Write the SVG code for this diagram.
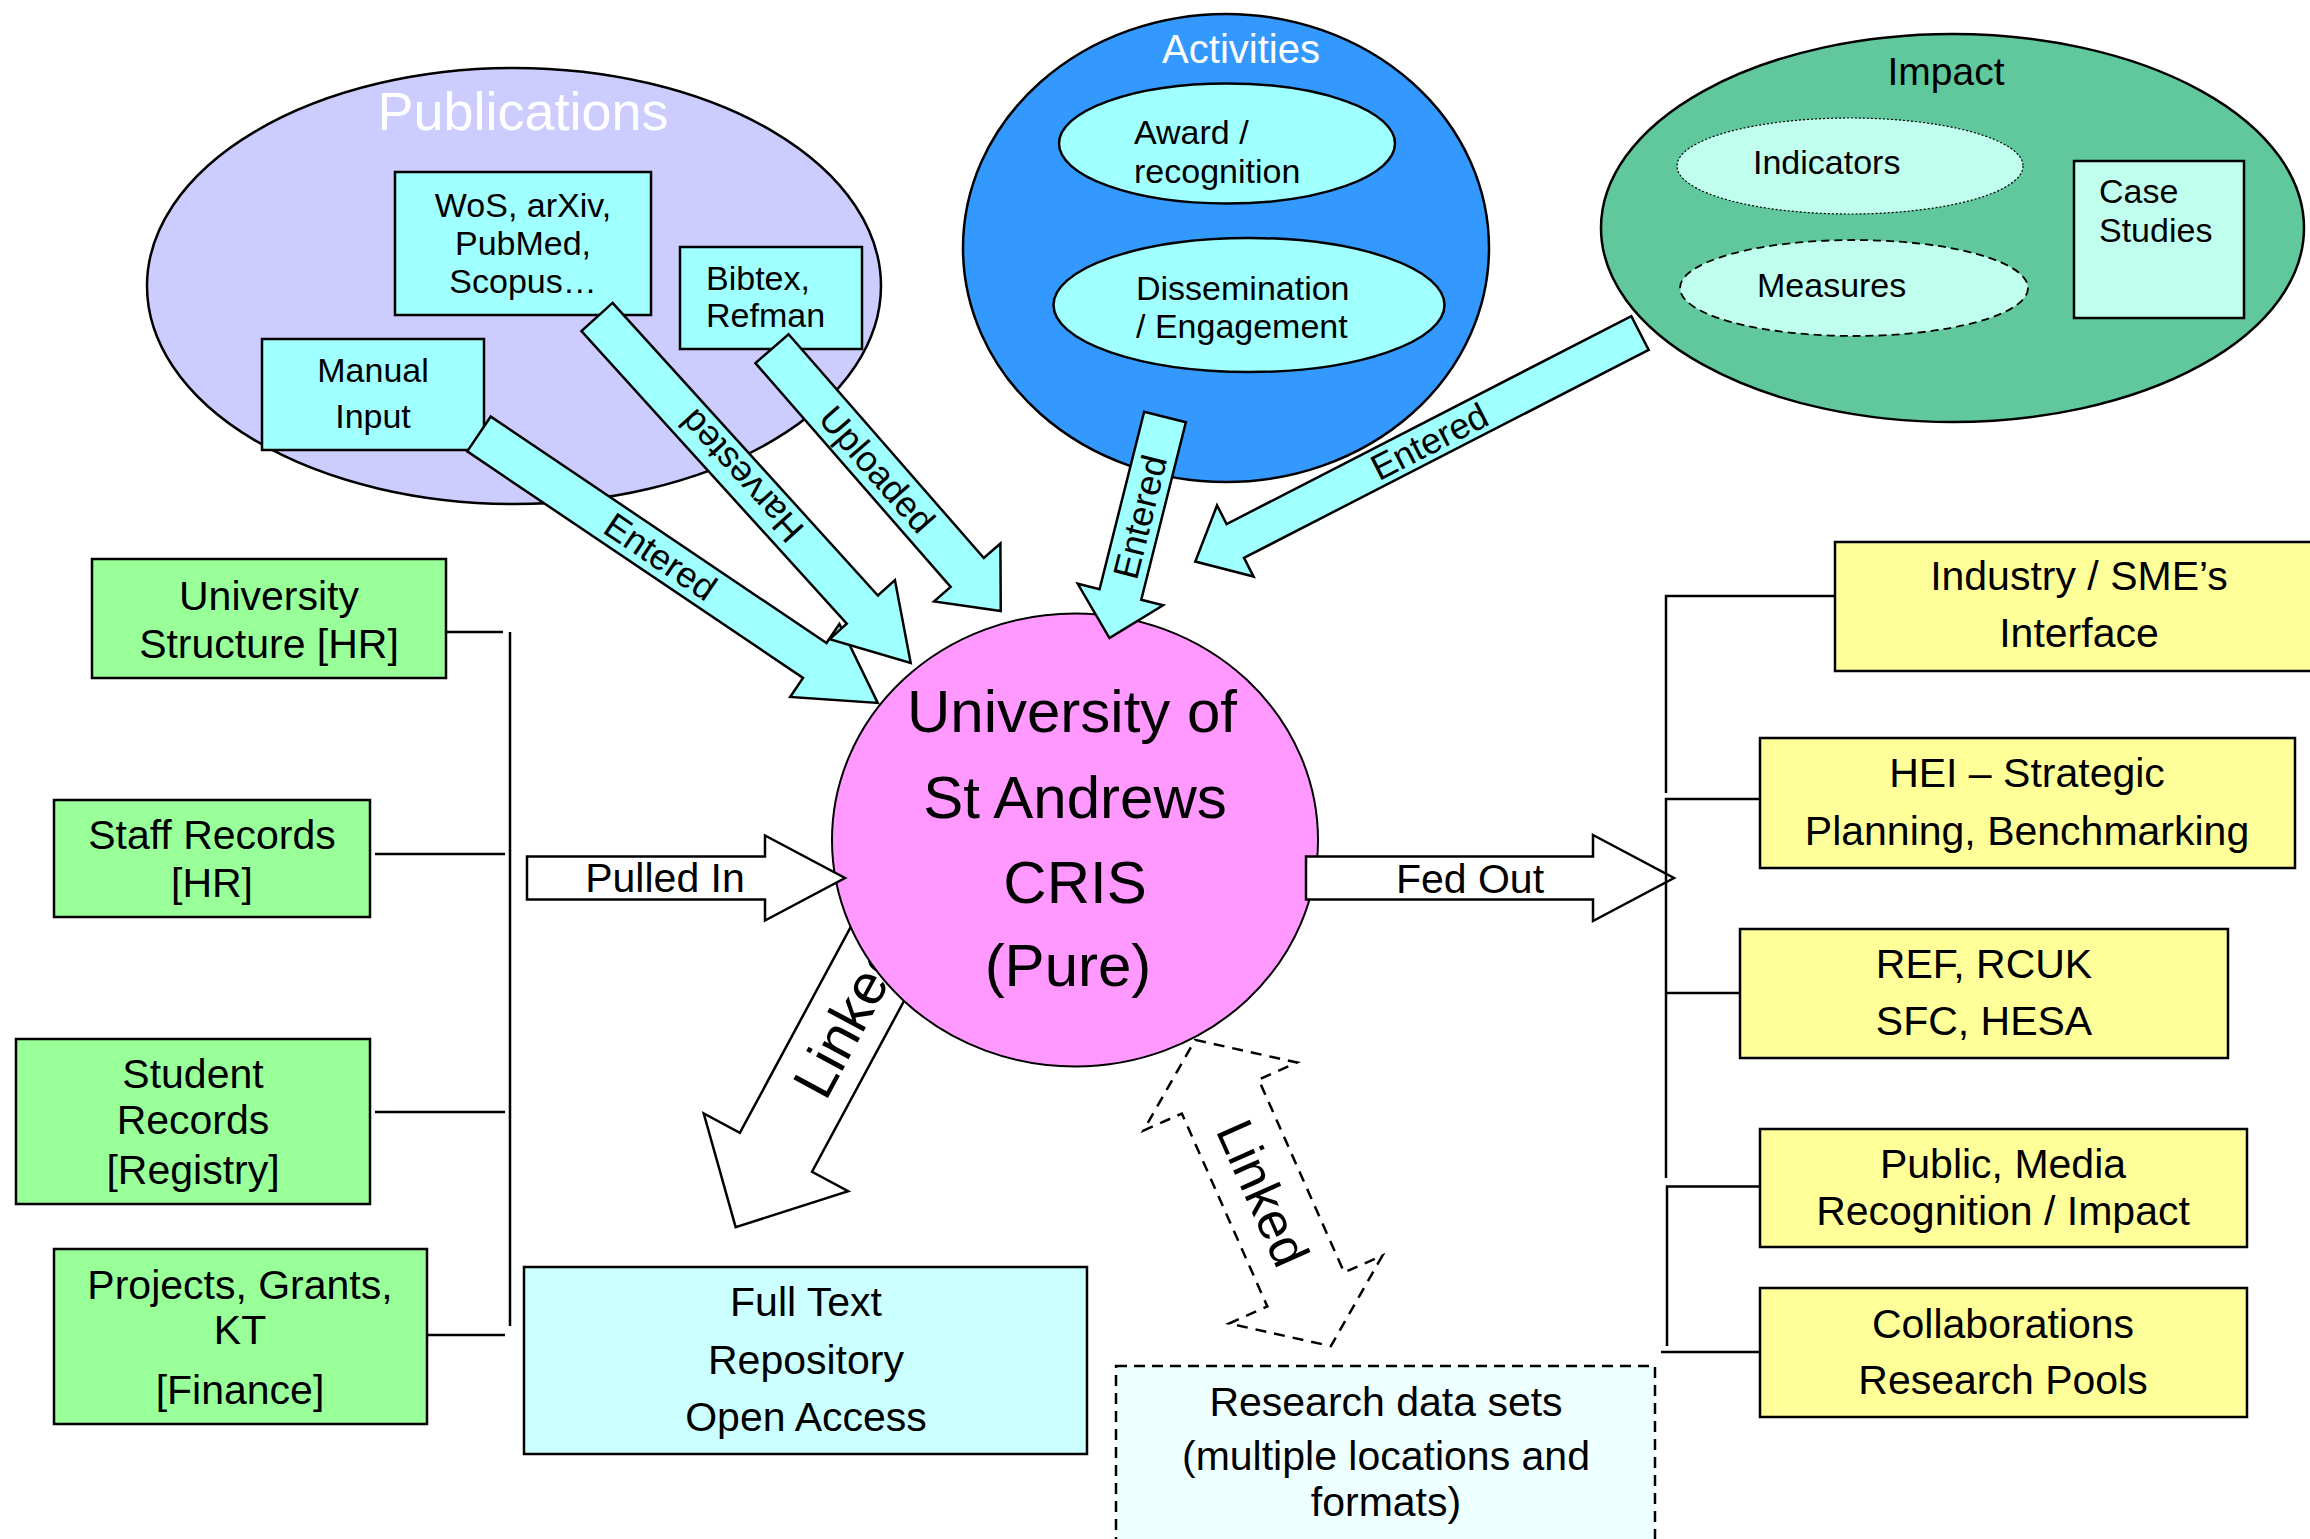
<svg xmlns="http://www.w3.org/2000/svg" width="2310" height="1539" viewBox="0 0 2310 1539">
<style>
text{font-family:"Liberation Sans",Arial,sans-serif;fill:#000}
.box{stroke:#000;stroke-width:2.5}
.cy{fill:#A0FFFF}
.gr{fill:#99FF99}
.ye{fill:#FFFF99}
.mint{fill:#C0FFEE}
.ln{fill:none;stroke:#000;stroke-width:2.5}
.arr{fill:#A0FFFF;stroke:#000;stroke-width:2.5;stroke-linejoin:miter}
.warr{fill:#fff;stroke:#000;stroke-width:2.5}
.c{text-anchor:middle}
.f34{font-size:34px}
.f36{font-size:36px}
.f41{font-size:41px}
</style>
<rect width="2310" height="1539" fill="#fff"/>

<g id="publications">
<ellipse cx="514" cy="286" rx="367" ry="218" fill="#CCCCFF" stroke="#000" stroke-width="2.5"/>
<text x="523" y="130" class="c" font-size="54" style="fill:#fff">Publications</text>
</g>
<g id="wos">
<rect x="395" y="172" width="256" height="143" class="box cy"/>
<text class="c f34" x="523" y="217">WoS, arXiv,</text>
<text class="c f34" x="523" y="255">PubMed,</text>
<text class="c f34" x="523" y="293">Scopus…</text>
</g>
<g id="bibtex">
<rect x="680" y="247" width="182" height="102" class="box cy"/>
<text class="f34" x="706" y="290">Bibtex,</text>
<text class="f34" x="706" y="327">Refman</text>
</g>
<g id="manual">
<rect x="262" y="339" width="222" height="111" class="box cy"/>
<text class="c f34" x="373" y="382">Manual</text>
<text class="c f34" x="373" y="428">Input</text>
</g>

<g id="activities">
<ellipse cx="1226" cy="248" rx="263" ry="234" fill="#3399FF" stroke="#000" stroke-width="2.5"/>
<text x="1241" y="63" class="c" font-size="40" style="fill:#fff">Activities</text>
</g>
<g id="award">
<ellipse cx="1227" cy="143.5" rx="168" ry="60" class="box cy" stroke-width="2"/>
<text class="f34" x="1134" y="144">Award /</text>
<text class="f34" x="1134" y="183">recognition</text>
</g>
<g id="dissemination">
<ellipse cx="1249" cy="305" rx="195.5" ry="67" class="box cy" stroke-width="2"/>
<text class="f34" x="1136" y="300">Dissemination</text>
<text class="f34" x="1136" y="338">/ Engagement</text>
</g>

<g id="impact">
<ellipse cx="1952.5" cy="228" rx="351.5" ry="194" fill="#60C89C" stroke="#000" stroke-width="2.5"/>
<text x="1946" y="85" class="c" font-size="39">Impact</text>
</g>
<g id="indicators">
<ellipse cx="1850" cy="166" rx="173" ry="48" class="mint" stroke="#000" stroke-width="1.2" stroke-dasharray="2 2"/>
<text class="f34" x="1753" y="174">Indicators</text>
</g>
<g id="measures">
<ellipse cx="1854" cy="288" rx="174" ry="48" class="mint" stroke="#000" stroke-width="1.8" stroke-dasharray="8 5"/>
<text class="f34" x="1757" y="297">Measures</text>
</g>
<g id="casestudies">
<rect x="2074" y="161" width="170" height="157" class="box mint"/>
<text class="f34" x="2099" y="203">Case</text>
<text class="f34" x="2099" y="242">Studies</text>
</g>

<g id="connectors">
<g id="linked-fulltext">
<polygon class="warr" transform="translate(915.8,892.6) rotate(118.3)" points="0,-41 295,-41 295,-82 380,0 295,82 295,41 0,41"/>
<text class="c" font-size="57" transform="translate(915.8,892.6) rotate(118.3) rotate(180,143,0)" x="143" y="0" dy=".35em">Linked</text>
</g>
</g>

<g id="cris">
<ellipse cx="1075" cy="840" rx="243" ry="226.5" fill="#FF99FF" stroke="#000" stroke-width="2"/>
<text class="c" font-size="60" x="1072" y="732">University of</text>
<text class="c" font-size="60" x="1075" y="818">St Andrews</text>
<text class="c" font-size="60" x="1075" y="903">CRIS</text>
<text class="c" font-size="60" x="1068" y="986">(Pure)</text>
</g>

<g id="connectors-arrows">
<g transform="translate(479,434) rotate(34)">
<polygon class="arr" points="0,-21 405,-21 405,-44 481,0 405,44 405,21 0,21"/>
<text class="c f36" x="219" y="0" dy=".35em">Entered</text>
</g>
<g transform="translate(597,317) rotate(47.8)">
<polygon class="arr" points="0,-21 395,-21 395,-44 467,0 395,44 395,21 0,21"/>
<text class="c f36" x="215" y="0" dy=".35em" transform="rotate(180,215,0)">Harvested</text>
</g>
<g transform="translate(772,348.7) rotate(48.9)">
<polygon class="arr" points="0,-22 297,-22 297,-44 348,0 297,44 297,22 0,22"/>
<text class="c f36" x="160" y="0" dy=".35em">Uploaded</text>
</g>
<g transform="translate(1165,417) rotate(104.1)">
<polygon class="arr" points="0,-21.5 183,-21.5 183,-44 228,0 183,44 183,21.5 0,21.5"/>
<text class="c f36" x="103" y="0" dy=".35em" transform="rotate(180,103,0)">Entered</text>
</g>
<g transform="translate(1640,333) rotate(152.8)">
<polygon class="arr" points="0,-19 455,-19 455,-40 500,0 455,40 455,19 0,19"/>
<text class="c f36" x="237" y="0" dy=".35em" transform="rotate(180,237,0)">Entered</text>
</g>
<g>
<polygon class="warr" points="527,856.5 765,856.5 765,835.5 845,878 765,920.5 765,899.5 527,899.5"/>
<text class="c f41" x="665" y="892">Pulled In</text>
</g>
<g>
<polygon class="warr" points="1306,856.5 1593,856.5 1593,835 1674,878 1593,921 1593,899.5 1306,899.5"/>
<text class="c f41" x="1470" y="893">Fed Out</text>
</g>
<g transform="translate(1263,1193) rotate(66.1)">
<polygon fill="#fff" stroke="#000" stroke-width="2.5" stroke-dasharray="11 8" points="-167.5,0 -105.5,-84 -105.5,-42 105.5,-42 105.5,-84 167.5,0 105.5,84 105.5,42 -105.5,42 -105.5,84"/>
<text class="c" font-size="52" x="0" y="0" dy=".35em">Linked</text>
</g>
<path class="ln" d="M446,632 H503 M375,854 H505 M375,1112 H505 M427,1335 H505 M510,632 V1326"/>
<path class="ln" d="M1835,596 H1666 V793 M1760,799 H1666 V1178 M1740,993 H1666 M1760,1186.5 H1667 V1346 M1760,1352 H1661"/>
</g>

<g id="univstructure">
<rect x="92" y="559" width="354" height="119" class="box gr"/>
<text class="c f41" x="269" y="610">University</text>
<text class="c f41" x="269" y="658">Structure [HR]</text>
</g>
<g id="staff">
<rect x="54" y="800" width="316" height="117" class="box gr"/>
<text class="c f41" x="212" y="849">Staff Records</text>
<text class="c f41" x="212" y="897">[HR]</text>
</g>
<g id="student">
<rect x="16" y="1039" width="354" height="165" class="box gr"/>
<text class="c f41" x="193" y="1088">Student</text>
<text class="c f41" x="193" y="1134">Records</text>
<text class="c f41" x="193" y="1184">[Registry]</text>
</g>
<g id="projects">
<rect x="54" y="1249" width="373" height="175" class="box gr"/>
<text class="c f41" x="240" y="1299">Projects, Grants,</text>
<text class="c f41" x="240" y="1344">KT</text>
<text class="c f41" x="240" y="1404">[Finance]</text>
</g>

<g id="fulltext">
<rect x="524" y="1267" width="563" height="187" class="box" fill="#CCFFFF"/>
<text class="c f41" x="806" y="1316">Full Text</text>
<text class="c f41" x="806" y="1374">Repository</text>
<text class="c f41" x="806" y="1431">Open Access</text>
</g>
<g id="researchdata">
<rect x="1116" y="1366" width="539" height="200" fill="#EEFFFF" stroke="#000" stroke-width="2.5" stroke-dasharray="11 7"/>
<text class="c f41" x="1386" y="1416">Research data sets</text>
<text class="c f41" x="1386" y="1470">(multiple locations and</text>
<text class="c f41" x="1386" y="1516">formats)</text>
</g>

<g id="industry">
<rect x="1835" y="542" width="490" height="129" class="box ye"/>
<text class="c f41" x="2079" y="590">Industry / SME’s</text>
<text class="c f41" x="2079" y="647">Interface</text>
</g>
<g id="hei">
<rect x="1760" y="738" width="535" height="130" class="box ye"/>
<text class="c f41" x="2027" y="787">HEI – Strategic</text>
<text class="c f41" x="2027" y="845">Planning, Benchmarking</text>
</g>
<g id="ref">
<rect x="1740" y="929" width="488" height="129" class="box ye"/>
<text class="c f41" x="1984" y="978">REF, RCUK</text>
<text class="c f41" x="1984" y="1035">SFC, HESA</text>
</g>
<g id="public">
<rect x="1760" y="1129" width="487" height="118" class="box ye"/>
<text class="c f41" x="2003" y="1178">Public, Media</text>
<text class="c f41" x="2003" y="1225">Recognition / Impact</text>
</g>
<g id="collab">
<rect x="1760" y="1288" width="487" height="129" class="box ye"/>
<text class="c f41" x="2003" y="1338">Collaborations</text>
<text class="c f41" x="2003" y="1394">Research Pools</text>
</g>
</svg>
